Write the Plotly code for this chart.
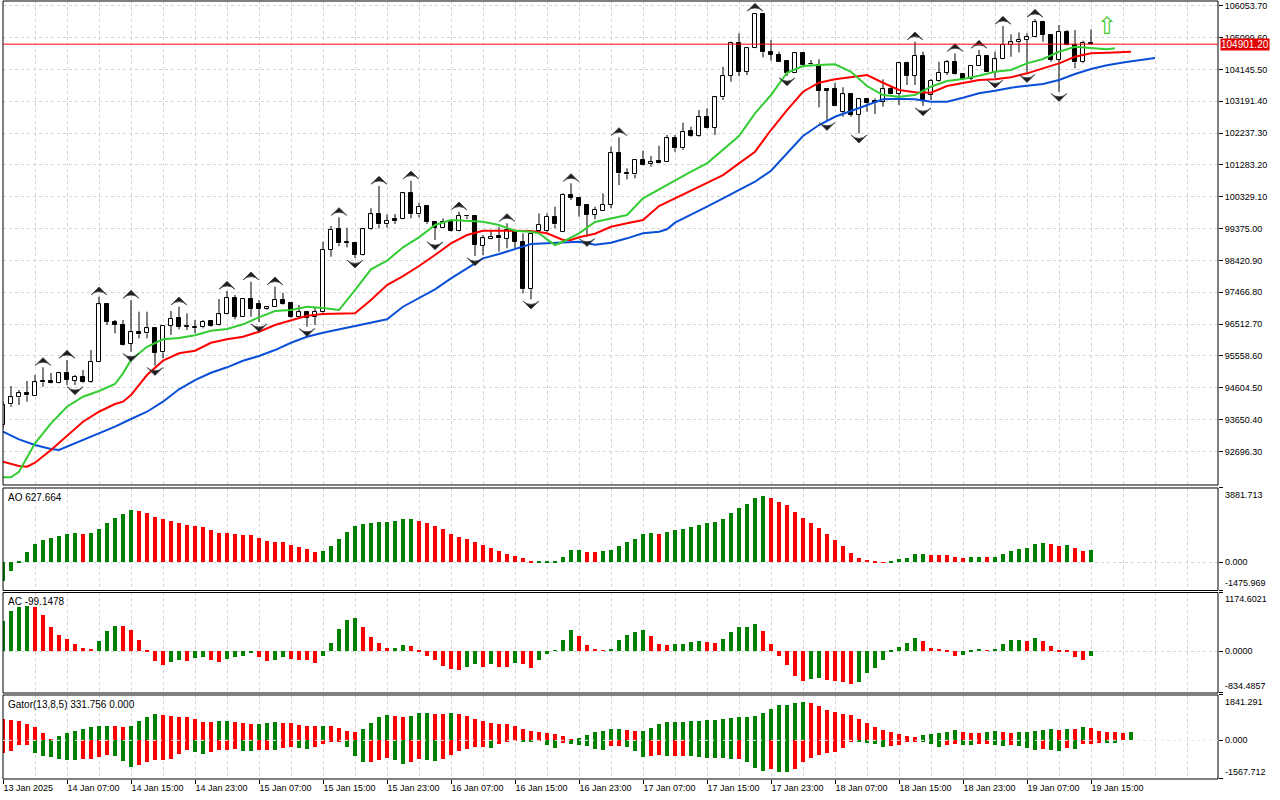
import plotly.graph_objects as go

# ---------------- data (hourly bars, index 0 = 13 Jan 2025 23:00) ----------------
opens = [
    93487, 94107, 94317, 94437, 94365, 94805, 94805, 94754, 95036, 94814,
    94934, 94766, 95384, 97104, 96583, 96484, 95914, 96265, 96235, 96385,
    95666, 96454, 96685, 96445, 96409, 96415, 96604, 96484, 96804, 97284,
    96732, 97254, 97113, 96954, 97014, 97233, 97152, 96732, 96864, 96732,
    96864, 98731, 99352, 98971, 98932, 98582, 99352, 99810, 99502, 99652,
    99652, 100431, 99801, 100050, 99562, 99400, 99580, 99301, 99760, 99750,
    98860, 99061, 99151, 99061, 99301, 98980, 97554, 99301, 99301, 99730,
    99280, 100380, 100281, 100080, 99780, 99909, 100080, 101630, 101048, 101000,
    101429, 101300, 101399, 101378, 102079, 101779, 102298, 102157, 102709, 102397,
    103308, 103946, 104926, 104075, 104776, 105804, 104657, 104576, 104396, 104045,
    104627, 104321, 104276, 103548, 103548, 102876, 103398, 102777, 103248, 103197,
    103176, 103548, 103407, 104327, 103946, 104546, 103377, 103796, 104045, 104357,
    104006, 103856, 104255, 104546, 104075, 104447, 104875, 104956, 105025, 105106,
    105556, 105175, 104426, 105274, 104875, 104357, 104926,
]
highs = [
    94176, 94656, 94536, 94805, 94985, 95216, 95045, 95084, 95435, 94985,
    95135, 95734, 97332, 97134, 96634, 96634, 97233, 96882, 96882, 96394,
    96454, 96903, 97032, 96834, 96634, 96634, 96634, 97263, 97503, 97383,
    97263, 97781, 97233, 97053, 97632, 97452, 97158, 97083, 96873, 96993,
    98980, 99451, 99712, 99400, 98941, 99382, 99981, 100650, 99801, 99810,
    100461, 100808, 100149, 100080, 99571, 99681, 99586, 99879, 99780, 99765,
    99181, 99331, 99430, 99532, 99316, 99232, 99202, 99831, 99831, 100029,
    100431, 100730, 100290, 100095, 100029, 100431, 101827, 102109, 101180, 101459,
    101708, 101549, 101857, 102178, 102178, 102547, 102427, 102927, 102978, 103317,
    104225, 104974, 105226, 104785, 105834, 105819, 105025, 104675, 104411, 104636,
    104636, 104426, 104447, 103578, 103745, 103608, 103407, 103278, 103257, 103278,
    103847, 103626, 104375, 104375, 104974, 104675, 103856, 104375, 104426, 104627,
    104021, 104276, 104725, 104561, 104675, 105445, 105196, 105256, 105226, 105655,
    105604, 105190, 105475, 105325, 105325, 105004, 105346,
]
lows = [
    93397, 94035, 94086, 94185, 94365, 94635, 94736, 94736, 94686, 94686,
    94745, 94745, 95375, 96484, 96235, 95869, 95684, 96085, 96085, 95264,
    95486, 96184, 96355, 96334, 96235, 96385, 96433, 96469, 96798, 96655,
    96723, 96732, 96574, 96933, 97008, 97083, 96694, 96723, 96433, 96484,
    96843, 98531, 98851, 98812, 98483, 98567, 99331, 99382, 99400, 99511,
    99646, 99681, 99712, 99511, 99031, 99391, 99286, 99292, 99661, 98552,
    98580, 99052, 98681, 98782, 98791, 97434, 97254, 99271, 99280, 99382,
    99271, 100230, 99730, 99130, 99652, 99900, 99981, 100680, 100850, 100880,
    101270, 101228, 101330, 101369, 101678, 101728, 102127, 102127, 102379, 102178,
    103227, 103775, 103946, 103976, 104770, 104507, 104405, 104366, 103946, 104036,
    104267, 104291, 103008, 102607, 103038, 102726, 102726, 102229, 102876, 102807,
    103026, 103398, 103077, 103677, 103677, 103047, 103227, 103775, 103976, 103991,
    103826, 103826, 104246, 104066, 103877, 104441, 104525, 104657, 104045, 105100,
    104974, 104375, 103476, 104866, 104177, 104327, 104890,
]
closes = [
    94086, 94317, 94437, 94377, 94766, 94766, 94754, 95036, 94835, 94934,
    94766, 95384, 97104, 96583, 96484, 95884, 96265, 96205, 96385, 95654,
    96454, 96664, 96433, 96424, 96424, 96583, 96463, 96804, 97284, 96732,
    97254, 96963, 96963, 97014, 97233, 97104, 96732, 96864, 96703, 96873,
    98731, 99331, 98932, 98941, 98582, 99352, 99801, 99502, 99610, 99610,
    100431, 99810, 100029, 99562, 99400, 99580, 99301, 99750, 99741, 98881,
    99082, 99130, 99082, 99331, 98980, 97554, 99202, 99481, 99730, 99502,
    100380, 100299, 100059, 99780, 99930, 100080, 101630, 101030, 101000, 101429,
    101279, 101360, 101348, 102079, 101779, 102277, 102157, 102709, 102397, 103308,
    103946, 104926, 104075, 104776, 105804, 104657, 104576, 104375, 104045, 104627,
    104276, 104297, 103506, 103506, 103047, 103398, 102777, 103248, 103128, 103128,
    103548, 103407, 104327, 103946, 104546, 103227, 103796, 104045, 104357, 104006,
    103856, 104255, 104546, 104075, 104447, 104875, 104956, 105025, 105106, 105556,
    105175, 104426, 105274, 104875, 104357, 104926, 104901.2,
]

# Alligator lines (shifted, so they run past the last bar): bar index -> price
lips_idx = [0, 1, 2, 4, 6, 8, 10, 12, 14, 15, 16, 18, 20, 22, 24, 26, 28, 30, 32, 34, 36, 38, 40,
            42, 44, 46, 48, 50, 52, 54, 56, 58, 60, 62, 64, 66, 67, 68, 69, 70, 72, 74, 76, 78,
            80, 82, 84, 86, 88, 90, 92, 94, 96, 98, 100, 102, 104, 106, 108, 110, 112, 114,
            116, 118, 120, 122, 124, 126, 128, 130, 132, 134, 136, 138, 139]
lips_val = [91919, 91919, 92087, 92938, 93538, 94035, 94335, 94506, 94716, 95036, 95435, 95833,
            96055, 96094, 96175, 96313, 96364, 96505, 96715, 96903, 96933, 97032, 96993,
            96933, 97533, 98153, 98411, 98812, 99112, 99481, 99631, 99601, 99580, 99481,
            99310, 99280, 99232, 99052, 98881, 98980, 99232, 99571, 99681, 99780,
            100281, 100551, 100829, 101078, 101330, 101750, 102148, 102828, 103377, 104045,
            104246, 104276, 104297, 104075, 103647, 103377, 103326, 103377,
            103626, 103796, 103856, 103955, 104075, 104126, 104327, 104456, 104675, 104824,
            104776, 104746, 104776]

teeth_idx = [0, 2, 3, 4, 6, 8, 10, 12, 14, 15, 16, 18, 20, 22, 24, 26, 28, 30, 32, 34, 36, 38,
             40, 42, 44, 46, 48, 50, 52, 54, 56, 58, 60, 62, 64, 66, 68, 70, 71, 72, 74, 76, 78,
             80, 82, 84, 86, 88, 90, 92, 94, 96, 98, 100, 102, 104, 106, 108, 110, 112, 114,
             116, 118, 120, 122, 124, 126, 128, 130, 132, 134, 136, 138, 140, 141]
teeth_val = [92387, 92258, 92237, 92357, 92737, 93166, 93586, 93885, 94116, 94185, 94386, 94985,
             95414, 95636, 95714, 95953, 96055, 96133, 96283, 96484, 96634, 96763,
             96813, 96813, 96834, 97233, 97683, 97952, 98252, 98582, 98932, 99181, 99310,
             99310, 99301, 99301, 99232, 99031, 99031, 99112, 99220, 99430, 99532,
             99631, 100050, 100281, 100509, 100731, 100979, 101330, 101678, 102328, 102927,
             103476, 103745, 103847, 103907, 103976, 103745, 103527, 103458,
             103446, 103647, 103727, 103826, 103847, 103907, 104027, 104177, 104327, 104525,
             104627, 104645, 104675, 104675]

jaw_idx = [0, 2, 4, 6, 7, 8, 10, 12, 14, 16, 18, 20, 22, 24, 26, 28, 30, 32, 34, 36, 38, 40,
           48, 50, 52, 54, 56, 58, 60, 62, 64, 66, 68, 70, 72, 74, 76, 78, 80, 82, 83, 84, 86,
           88, 90, 92, 94, 96, 98, 100, 102, 104, 106, 108, 110, 112, 114, 116, 118, 120, 122,
           124, 126, 128, 130, 132, 134, 136, 138, 140, 142, 144]
jaw_val = [93286, 93058, 92887, 92767, 92737, 92836, 93037, 93238, 93436, 93667, 93885, 94185,
           94557, 94835, 95054, 95216, 95414, 95555, 95734, 95953, 96133, 96253,
           96655, 97032, 97302, 97554, 97883, 98183, 98483, 98612, 98752, 98911, 98932,
           98950, 98980, 98890, 98950, 99082, 99232, 99280, 99352, 99550, 99780,
           100029, 100281, 100530, 100778, 101108, 101630, 102148, 102478, 102726, 102897,
           103077, 103248, 103266, 103248, 103176, 103176, 103296, 103428,
           103506, 103596, 103656, 103707, 103826, 104006, 104156, 104267, 104351, 104411,
           104486]

fractal_up_idx = [5, 8, 12, 16, 22, 28, 31, 34, 42, 47, 51, 57, 63, 71, 77, 94, 114, 119, 122, 125, 129]
fractal_down_idx = [9, 16, 19, 32, 38, 44, 54, 59, 66, 73, 98, 103, 107, 115, 124, 128, 132]

signal_idx = [138]
signal_val = [105385]

ao = [
    -958, -435, 20, 557, 958, 1167, 1289, 1376, 1480, 1515,
    1498, 1532, 1759, 2055, 2316, 2525, 2734, 2699, 2595, 2386,
    2264, 2177, 2055, 1950, 1898, 1846, 1689, 1532, 1525, 1480,
    1428, 1420, 1271, 1114, 1062, 1055, 905, 801, 696, 540,
    592, 853, 1219, 1585, 1898, 2003, 2055, 2107, 2115, 2159,
    2264, 2270, 2159, 2055, 1898, 1759, 1480, 1323, 1219, 1062,
    905, 766, 592, 435, 331, 226, 35, 45, 70, 75,
    296, 644, 655, 540, 535, 592, 644, 853, 1045, 1219,
    1480, 1515, 1480, 1585, 1689, 1759, 1846, 1950, 2055, 2107,
    2264, 2560, 2821, 3030, 3343, 3465, 3343, 3152, 2978, 2629,
    2316, 2037, 1793, 1480, 1167, 853, 488, 226, 122, 15,
    -10, 52, 174, 226, 435, 440, 383, 378, 373, 279,
    244, 280, 285, 278, 285, 435, 592, 696, 749, 958,
    1010, 958, 853, 905, 740, 610, 627.664,
]
ac = [
    602, 803, 884, 890, 880, 723, 482, 321, 241, 134,
    60, 40, 201, 388, 502, 495, 422, 221, -8, -201,
    -281, -234, -194, -214, -154, -134, -194, -234, -174, -134,
    -114, -54, -134, -214, -194, -134, -174, -180, -194, -254,
    -114, 161, 442, 622, 663, 482, 281, 161, 60, 65,
    120, 100, -13, -114, -194, -295, -368, -375, -315, -274,
    -315, -274, -315, -318, -254, -258, -335, -194, -74, 13,
    221, 422, 301, 120, 20, 5, 40, 221, 321, 382,
    422, 301, 141, 120, 141, 145, 181, 201, 181, 161,
    241, 382, 482, 485, 542, 402, 141, -114, -281, -502,
    -596, -556, -536, -576, -596, -616, -656, -616, -435, -335,
    -194, -33, 80, 161, 261, 201, 60, 20, -20, -114,
    -94, -13, 20, 5, 20, 141, 221, 225, 201, 261,
    201, 100, -20, -25, -134, -194, -99.1478,
]
gator_upper = [
    881, 813, 772, 678, 528, 285, 20, 163, 285, 366,
    447, 528, 569, 575, 568, 562, 570, 772, 935, 1057,
    1016, 976, 935, 930, 854, 732, 727, 772, 777, 732,
    691, 650, 655, 691, 732, 691, 686, 610, 569, 565,
    570, 566, 488, 366, 325, 447, 691, 935, 1016, 976,
    935, 976, 1098, 1100, 1057, 1052, 1100, 1057, 976, 854,
    772, 691, 650, 645, 569, 447, 366, 325, 285, 244,
    163, 41, 81, 203, 325, 366, 447, 452, 407, 366,
    372, 488, 650, 732, 737, 742, 772, 777, 813, 818,
    854, 894, 935, 940, 976, 1098, 1260, 1423, 1428, 1518,
    1558, 1518, 1396, 1233, 1152, 1070, 1030, 867, 705, 542,
    420, 339, 257, 176, 136, 217, 257, 298, 339, 420,
    339, 298, 295, 339, 379, 339, 298, 339, 342, 379,
    420, 461, 420, 461, 455, 542, 501, 379, 339, 335,
    298, 339,
]
gator_lower = [
    -501, -434, -203, -200, -515, -650, -691, -745, -799, -803,
    -759, -755, -691, -610, -650, -827, -1084, -989, -881, -799,
    -795, -745, -569, -407, -488, -569, -488, -407, -403, -366,
    -434, -438, -407, -403, -410, -312, -271, -312, -366, -271,
    -163, -68, -60, -271, -650, -881, -875, -799, -718, -813,
    -976, -894, -772, -813, -854, -772, -610, -447, -366, -285,
    -280, -290, -163, -41, -20, -41, -45, -14, -203, -325,
    -122, -163, -203, -244, -366, -407, -244, -240, -285, -447,
    -691, -650, -610, -650, -645, -640, -648, -691, -695, -700,
    -732, -772, -768, -894, -1138, -1260, -1179, -1265, -1301, -1150,
    -881, -705, -610, -528, -488, -298, -54, -60, -95, -163,
    -257, -217, -176, -81, -41, -54, -136, -257, -203, -149,
    -176, -203, -163, -160, -203, -217, -190, -217, -325, -393,
    -366, -393, -434, -325, -352, -136, -130, -95, -100, -110,
]

time_labels = ["13 Jan 2025", "14 Jan 07:00", "14 Jan 15:00", "14 Jan 23:00", "15 Jan 07:00",
               "15 Jan 15:00", "15 Jan 23:00", "16 Jan 07:00", "16 Jan 15:00", "16 Jan 23:00",
               "17 Jan 07:00", "17 Jan 15:00", "17 Jan 23:00", "18 Jan 07:00", "18 Jan 15:00",
               "18 Jan 23:00", "19 Jan 07:00", "19 Jan 15:00"]
price_ticks = [92696.30, 93650.40, 94604.50, 95558.60, 96512.70, 97466.80, 98420.90, 99375.00,
               100329.10, 101283.20, 102237.30, 103191.40, 104145.50, 105099.60, 106053.70]
price_range = [91689.0, 106195.0]
ao_range = [-1475.969, 3881.713]
ac_range = [-834.4857, 1174.6021]
gator_range = [-1567.712, 1841.291]

# ---------------- styling ----------------
FONT = "Liberation Sans, Arial, sans-serif"
GRID = "#d4d4d4"
UPC = "#008000"
DNC = "#ff0000"
FRACTAL_GAP = 290

def grow_colors(vals, first, key=lambda v: v):
    cols = [first]
    for a, b in zip(vals[:-1], vals[1:]):
        cols.append(UPC if key(b) > key(a) else DNC)
    return cols

n = len(closes)
idx = list(range(n))

fig = go.Figure()

# candle bodies
body_base = [min(o, c) for o, c in zip(opens, closes)]
body_h = [abs(c - o) for o, c in zip(opens, closes)]
body_fill = ["white" if c >= o else "black" for o, c in zip(opens, closes)]
fig.add_trace(go.Bar(x=idx, y=body_h, base=body_base, width=0.5,
                     marker=dict(color=body_fill, line=dict(color="black", width=1)),
                     yaxis="y", hoverinfo="skip"))
# wicks (split so they do not cross the white bodies)
wx, wy = [], []
for i in idx:
    top, bot = max(opens[i], closes[i]), min(opens[i], closes[i])
    wx += [i, i, None, i, i, None]
    wy += [top, highs[i], None, lows[i], bot, None]
fig.add_trace(go.Scatter(x=wx, y=wy, mode="lines", line=dict(color="black", width=1),
                         yaxis="y", hoverinfo="skip"))

# alligator
fig.add_trace(go.Scatter(x=jaw_idx, y=jaw_val, mode="lines", line=dict(color="#0a4fd8", width=2), yaxis="y"))
fig.add_trace(go.Scatter(x=teeth_idx, y=teeth_val, mode="lines", line=dict(color="#ff0000", width=2), yaxis="y"))
fig.add_trace(go.Scatter(x=lips_idx, y=lips_val, mode="lines", line=dict(color="#33cc33", width=2), yaxis="y"))

# fractals
fig.add_trace(go.Scatter(x=fractal_up_idx, y=[highs[i] + FRACTAL_GAP for i in fractal_up_idx],
                         mode="markers", yaxis="y",
                         marker=dict(symbol="arrow-wide", size=11, angle=0, color="#1e1e1e",
                                     line=dict(color="#33363c", width=0.8))))
fig.add_trace(go.Scatter(x=fractal_down_idx, y=[lows[i] - FRACTAL_GAP for i in fractal_down_idx],
                         mode="markers", yaxis="y",
                         marker=dict(symbol="arrow-wide", size=11, angle=180, color="#1e1e1e",
                                     line=dict(color="#33363c", width=0.8))))
# signal arrow
fig.add_trace(go.Scatter(x=signal_idx, y=signal_val, mode="text", text=["⇧"], yaxis="y",
                         textfont=dict(family="DejaVu Sans", size=24, color="#44cc33")))

# AO
fig.add_trace(go.Bar(x=idx, y=ao, width=0.55, yaxis="y2",
                     marker=dict(color=grow_colors(ao, UPC), line=dict(width=0))))
# AC
fig.add_trace(go.Bar(x=idx, y=ac, width=0.55, yaxis="y3",
                     marker=dict(color=grow_colors(ac, UPC), line=dict(width=0))))
# Gator
fig.add_trace(go.Bar(x=list(range(len(gator_upper))), y=gator_upper, width=0.55, yaxis="y4",
                     marker=dict(color=grow_colors(gator_upper, DNC), line=dict(width=0))))
fig.add_trace(go.Bar(x=list(range(len(gator_lower))), y=gator_lower, width=0.55, yaxis="y4",
                     marker=dict(color=grow_colors(gator_lower, DNC, key=abs), line=dict(width=0))))

dom_main = [0.37789, 1.0]
dom_ao = [0.24229, 0.37404]
dom_ac = [0.11054, 0.23972]
dom_gt = [0.0, 0.10797]

def sub_axis(dom, rng):
    return dict(domain=dom, range=rng, side="right", anchor="x", fixedrange=True,
                tickmode="array", tickvals=[rng[0], 0, rng[1]], showticklabels=False,
                ticks="outside", ticklen=4, tickcolor="black",
                showgrid=True, gridcolor=GRID, griddash="3px,3px", gridwidth=1,
                zeroline=False, showline=False, automargin=False)

fig.update_layout(
    width=1280, height=800,
    margin=dict(l=3, r=62, t=1, b=21),
    paper_bgcolor="white", plot_bgcolor="white",
    showlegend=False, barmode="overlay", bargap=0,
    font=dict(family=FONT, size=9, color="black"),
    xaxis=dict(range=[0, 151.875], anchor="y4", domain=[0, 1],
               tickmode="array", tickvals=list(range(0, n, 8)), ticktext=time_labels,
               ticklabelposition="outside right", ticks="outside", ticklen=4, tickcolor="black",
               showgrid=True, gridcolor=GRID, griddash="3px,3px", gridwidth=1,
               minor=dict(tickmode="linear", tick0=0, dtick=4, showgrid=True, gridcolor=GRID,
                          griddash="3px,3px", gridwidth=1, ticks=""),
               zeroline=False, showline=False, automargin=False,
               tickfont=dict(family=FONT, size=9)),
    yaxis=dict(domain=dom_main, range=price_range, side="right", anchor="x",
               tickmode="array", tickvals=price_ticks, ticktext=[f"{v:.2f}" for v in price_ticks],
               ticks="outside", ticklen=4, tickcolor="black",
               showgrid=True, gridcolor=GRID, griddash="3px,3px", gridwidth=1,
               zeroline=False, showline=False, automargin=False,
               tickfont=dict(family=FONT, size=9)),
    yaxis2=sub_axis(dom_ao, ao_range),
    yaxis3=sub_axis(dom_ac, ac_range),
    yaxis4=sub_axis(dom_gt, gator_range),
)

shapes = []
for yr in ["y", "y2", "y3", "y4"]:
    shapes.append(dict(type="rect", xref="paper", x0=0, x1=1, yref=f"{yr} domain", y0=0, y1=1,
                       line=dict(color="black", width=1), layer="above"))
shapes.append(dict(type="line", xref="paper", x0=0, x1=1, yref="y", y0=closes[-1], y1=closes[-1],
                   line=dict(color="#ff0000", width=1), layer="above"))
shapes.append(dict(type="line", xref="paper", x0=0, x1=1, yref="y4", y0=0, y1=0,
                   line=dict(color="#f2f2f2", width=1, dash="3px,3px"), layer="above"))
fig.update_layout(shapes=shapes)

ann = []
ann.append(dict(x=1, xref="paper", xanchor="left", xshift=2, y=closes[-1], yref="y",
                text=f"{closes[-1]:.2f}", showarrow=False, bgcolor="#e00000",
                font=dict(color="white", size=10, family=FONT), borderpad=0))
titles = [("y2", f"AO {ao[-1]:.3f}"), ("y3", f"AC {ac[-1]:.4f}"), ("y4", "Gator(13,8,5) 331.756 0.000")]
for yr, t in titles:
    ann.append(dict(x=0, xref="paper", xanchor="left", xshift=3, y=1, yref=f"{yr} domain",
                    yanchor="top", yshift=-2, text=t, showarrow=False, font=dict(size=10, family=FONT)))
for yr, rng, fmt in [("y2", ao_range, "{:.3f}"), ("y3", ac_range, "{:.4f}"), ("y4", gator_range, "{:.3f}")]:
    for v, anc in [(rng[1], "top"), (0, "middle"), (rng[0], "bottom")]:
        ann.append(dict(x=1, xref="paper", xanchor="left", xshift=5, y=v, yref=yr, yanchor=anc,
                        text=fmt.format(v), showarrow=False, font=dict(size=9, family=FONT)))
fig.update_layout(annotations=ann)

fig.write_html("out.html", config={"displayModeBar": False},
               post_script="document.body.style.margin='0px';document.body.style.padding='0px';")
